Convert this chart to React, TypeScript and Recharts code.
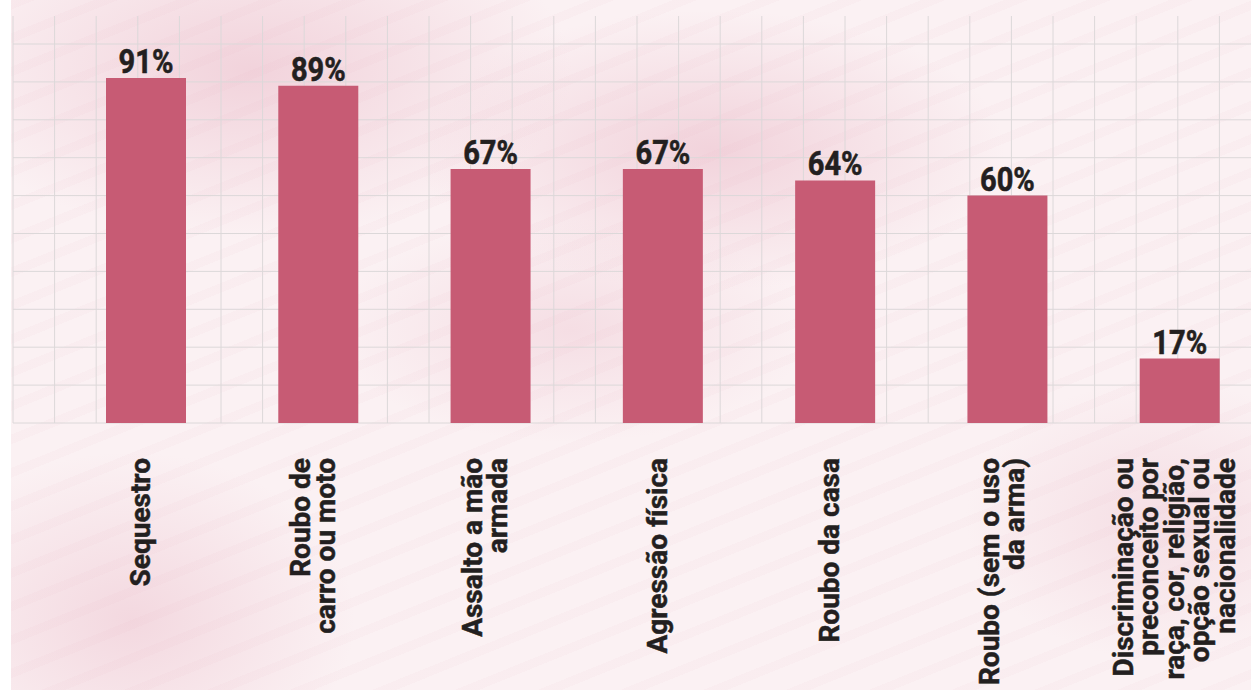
import React from "react";
import { BarChart, Bar, XAxis, YAxis, CartesianGrid, LabelList } from "recharts";

const categories = [
  "Sequestro",
  "Roubo de|carro ou moto",
  "Assalto a mão|armada",
  "Agressão física",
  "Roubo da casa",
  "Roubo (sem o uso|da arma)",
  "Discriminação ou|preconceito por|raça, cor, religião,|opção sexual ou|nacionalidade",
];
const values = [91, 89, 67, 67, 64, 60, 17];
const yTicks = [0, 10, 20, 30, 40, 50, 60, 70, 80, 90, 100];

const data = categories.map((name, i) => ({ name, value: values[i] }));

const FONT = "Roboto, 'Liberation Sans', Arial, sans-serif";
const BAR_COLOR = "#c75b74";
const TEXT_COLOR = "#231f20";

// decorative grid: vertical lines every ~41.6px starting at x=13
const gridX = Array.from({ length: 31 }, (_, i) => 13 + i * 41.6);

function CategoryTick(props: any) {
  const { x, y, payload } = props;
  const lines: string[] = String(payload.value).split("|");
  const pitch = 25.5;
  const y0 = -6 - ((lines.length - 1) * pitch - 20) / 2;
  return (
    <g transform={`translate(${x},${y - 1})`}>
      <text
        transform="rotate(-90) scale(1.0,1)"
        textAnchor="end"
        fontFamily={FONT}
        fontWeight={700}
        fontSize={28}
        fill={TEXT_COLOR}
        stroke={TEXT_COLOR}
        strokeWidth={0.5}
      >
        {lines.map((l, i) => (
          <tspan key={i} x={0} y={y0 + i * pitch}>
            {l}
          </tspan>
        ))}
      </text>
    </g>
  );
}

function ValueLabel(props: any) {
  const { x, y, width, value } = props;
  const cx = Number(x) + Number(width) / 2;
  return (
    <text
      transform={`translate(${cx},${Number(y) - 5}) scale(0.88,1)`}
      textAnchor="middle"
      fontFamily={FONT}
      fontWeight={700}
      fontSize={33}
      fill={TEXT_COLOR}
      stroke={TEXT_COLOR}
      strokeWidth={0.6}
    >
      {`${value}%`}
    </text>
  );
}

const background = [
  "repeating-linear-gradient(158deg, rgba(225,160,178,0.05) 0px, rgba(225,160,178,0.05) 9px, transparent 9px, transparent 31px)",
  "radial-gradient(ellipse 460px 240px at 240px 70px, rgba(234,186,200,0.55), transparent 70%)",
  "radial-gradient(ellipse 420px 200px at 700px 150px, rgba(234,186,200,0.55), transparent 70%)",
  "radial-gradient(ellipse 340px 160px at 560px 330px, rgba(234,186,200,0.35), transparent 70%)",
  "radial-gradient(ellipse 320px 240px at 120px 620px, rgba(234,186,200,0.45), transparent 70%)",
  "radial-gradient(ellipse 280px 200px at 1150px 520px, rgba(234,186,200,0.35), transparent 70%)",
  "linear-gradient(#fbf1f3, #fbf1f3)",
].join(",");

export default function App() {
  return (
    <div
      style={{
        position: "fixed",
        left: 0,
        top: 0,
        width: 1251,
        height: 690,
        overflow: "hidden",
        background: "#ffffff",
      }}
    >
      <div style={{ position: "absolute", left: 11, top: 0, right: 0, bottom: 0, background }} />
      <div style={{ position: "absolute", left: 0, top: 0 }}>
        <BarChart
          width={1300}
          height={690}
          data={data}
          margin={{ top: 44, right: 34, left: 60, bottom: 0 }}
        >
          <CartesianGrid
            x={13}
            y={16}
            width={1260}
            height={407}
            stroke="#dcd8d9"
            strokeWidth={1}
            verticalPoints={gridX}
          />
          <YAxis hide domain={[0, 100]} ticks={yTicks} />
          <XAxis
            dataKey="name"
            height={267}
            axisLine={false}
            tickLine={false}
            tickSize={0}
            tickMargin={36}
            interval={0}
            tick={<CategoryTick />}
          />
          <Bar dataKey="value" fill={BAR_COLOR} barSize={80} isAnimationActive={false}>
            <LabelList dataKey="value" content={<ValueLabel />} />
          </Bar>
        </BarChart>
      </div>
    </div>
  );
}
